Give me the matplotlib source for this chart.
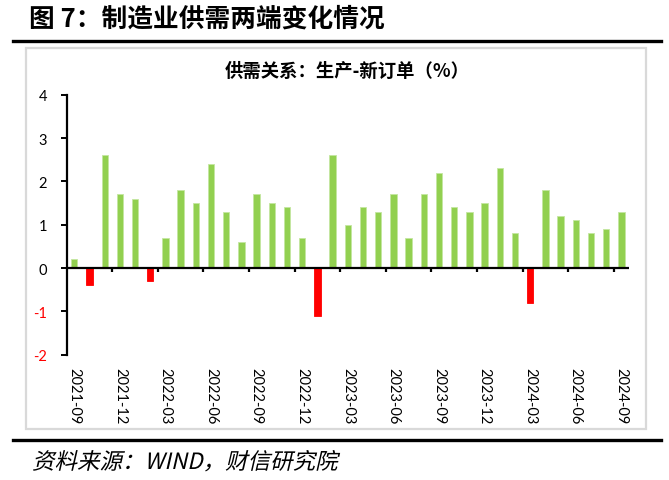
import numpy as np
import matplotlib
matplotlib.use("Agg")
import matplotlib.pyplot as plt
from matplotlib.patches import Rectangle, PathPatch
from matplotlib.lines import Line2D
from matplotlib.textpath import TextPath
from matplotlib.font_manager import FontProperties
from matplotlib.transforms import Affine2D, IdentityTransform

plt.rcParams['font.family'] = ['Lato', 'Noto Sans CJK SC', 'DejaVu Sans']

# ---- data ----
months = (["2021-%02d" % m for m in range(9, 13)] +
          ["2022-%02d" % m for m in range(1, 13)] +
          ["2023-%02d" % m for m in range(1, 13)] +
          ["2024-%02d" % m for m in range(1, 10)])
values = [0.2, -0.4, 2.6, 1.7,
          1.6, -0.3, 0.7, 1.8, 1.5, 2.4, 1.3, 0.6, 1.7, 1.5, 1.4, 0.7,
          -1.1, 2.6, 1.0, 1.4, 1.3, 1.7, 0.7, 1.7, 2.2, 1.4, 1.3, 1.5,
          2.3, 0.8, -0.8, 1.8, 1.2, 1.1, 0.8, 0.9, 1.3]
yticks = [-2, -1, 0, 1, 2, 3, 4]

title = "图 7：制造业供需两端变化情况"
chart_title = "供需关系：生产-新订单（%）"
source = "资料来源：WIND，财信研究院"

W, H = 669, 481
fig = plt.figure(figsize=(W / 100, H / 100), dpi=100)

def fx(px):
    return px / W

def fy(py):
    return 1 - py / H

# title
fig.text(fx(29), fy(19), title, fontsize=18.5, fontweight='bold',
         family=['Noto Sans CJK SC'], va='center', ha='left')

# rules
fig.add_artist(Line2D([fx(13), fx(661)], [fy(41.5), fy(41.5)], color='black', lw=2.4))
fig.add_artist(Line2D([fx(13), fx(661)], [fy(440.5), fy(440.5)], color='black', lw=2.4))
fig.add_artist(Rectangle((fx(26), fy(430)), fx(646) - fx(26), fy(48.5) - fy(430),
                         transform=fig.transFigure, fill=False,
                         edgecolor='#d9d9d9', lw=1.6))

# inner title
fig.text(fx(347), fy(71), chart_title, fontsize=13.2, fontweight='bold',
         family=['Noto Sans CJK SC'], ha='center', va='center')

# source (skewed to mimic italic)
fp = FontProperties(family='Noto Sans CJK SC', size=22.5)
tp = TextPath((0, 0), source, prop=fp)
tr = Affine2D().skew_deg(13, 0).translate(32, H - 470)
fig.add_artist(PathPatch(tr.transform_path(tp), transform=IdentityTransform(),
                         facecolor='black', edgecolor='none'))

# axes
left, right = 66.7, 629
top, bottom = 95.7, 355.7
ax = fig.add_axes([fx(left), fy(bottom), fx(right) - fx(left), fy(top) - fy(bottom)])
x = np.arange(len(values))
colors = ['#92D050' if v >= 0 else '#FF0000' for v in values]
ax.bar(x, values, width=0.42, color=colors,
       edgecolor=['#C4E6A0' if v >= 0 else '#FF0000' for v in values],
       linewidth=0.6, zorder=2)
ax.set_xlim(-0.5, len(values) - 0.5)
ax.set_ylim(-2, 4)
ax.axhline(0, color='black', lw=1.6, zorder=3)
for b in np.arange(3, len(values), 3) - 0.5:
    ax.plot([b, b], [0, -0.1], color='black', lw=1.6, zorder=3, solid_capstyle='butt')

for s in ['top', 'right', 'bottom']:
    ax.spines[s].set_visible(False)
ax.spines['left'].set_linewidth(1.6)
ax.set_yticks(yticks)
ax.set_yticklabels([str(t) for t in yticks], fontsize=10.5)
for lab, t in zip(ax.get_yticklabels(), yticks):
    lab.set_color('#FF0000' if t < 0 else 'black')
ax.tick_params(axis='y', direction='out', length=4, width=1.4, pad=10)

idx = list(range(0, len(values), 3))
ax.set_xticks(idx)
ax.set_xticklabels([months[i] for i in idx], rotation=270, fontsize=10.5)
ax.tick_params(axis='x', length=0, pad=9)
ax.patch.set_alpha(0)

fig.savefig("out.png", dpi=100)
